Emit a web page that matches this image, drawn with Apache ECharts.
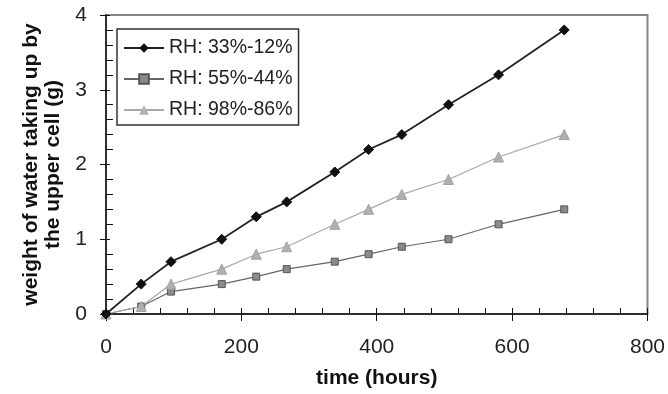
<!DOCTYPE html>
<html><head><meta charset="utf-8">
<script src="https://cdn.jsdelivr.net/npm/echarts@6/dist/echarts.min.js"></script>
<style>html,body{margin:0;padding:0;background:#fff}#c{width:668px;height:394px}</style>
</head><body><div id="c"></div>
<script>
const times = [0, 52, 96, 171, 222, 267, 338, 388, 437, 506, 580, 677];
const rh33 = [0, 0.4, 0.7, 1.0, 1.3, 1.5, 1.9, 2.2, 2.4, 2.8, 3.2, 3.8];
const rh55 = [0, 0.1, 0.3, 0.4, 0.5, 0.6, 0.7, 0.8, 0.9, 1.0, 1.2, 1.4];
const rh98 = [0, 0.1, 0.4, 0.6, 0.8, 0.9, 1.2, 1.4, 1.6, 1.8, 2.1, 2.4];
const seriesNames = ['RH: 33%-12%', 'RH: 55%-44%', 'RH: 98%-86%'];
const xTicks = [0, 200, 400, 600, 800];
const yTicks = [0, 1, 2, 3, 4];

const FONT = 'Liberation Sans, Arial, sans-serif';
const pairs = (ys) => times.map((t, i) => [t, ys[i]]);

const chart = echarts.init(document.getElementById('c'));
chart.setOption({
  animation: false,
  backgroundColor: '#fff',
  grid: { left: 106, right: 20, top: 15, bottom: 78, show: true, borderColor: '#888', borderWidth: 2, backgroundColor: 'transparent' },
  legend: {
    left: 117, top: 29, orient: 'vertical',
    data: seriesNames,
    itemWidth: 40, itemHeight: 12, itemGap: 11,
    padding: [9, 6, 5, 6],
    borderColor: '#333', borderWidth: 1.5,
    textStyle: { fontFamily: FONT, fontSize: 19.5, color: '#222' }
  },
  xAxis: [{
    type: 'value', min: xTicks[0], max: xTicks[xTicks.length - 1], interval: 200,
    name: 'time (hours)', nameLocation: 'middle', nameGap: 54,
    nameTextStyle: { fontFamily: FONT, fontSize: 21, fontWeight: 'bold', color: '#111' },
    axisLine: { show: true, onZero: false, lineStyle: { color: '#111', width: 1.5 } },
    axisTick: { show: true, inside: true, length: 6, lineStyle: { color: '#111' } },
    minorTick: { show: true, splitNumber: 5, length: 6, lineStyle: { color: '#111' } },
    axisLabel: { fontFamily: FONT, fontSize: 21, color: '#222', margin: 23 },
    splitLine: { show: false }
  }, {
    type: 'value', position: 'bottom', min: 0, max: 800, interval: 200,
    axisLine: { show: false }, axisTick: { show: true, inside: false, length: 7, lineStyle: { color: '#111' } },
    axisLabel: { show: false }, splitLine: { show: false }
  }],
  yAxis: [{
    type: 'value', min: yTicks[0], max: yTicks[yTicks.length - 1], interval: 1,
    name: 'weight of water taking up by\nthe upper cell (g)', nameLocation: 'middle', nameRotate: 90, nameGap: 42,
    nameTextStyle: { fontFamily: FONT, fontSize: 21, fontWeight: 'bold', color: '#111', lineHeight: 22 },
    axisLine: { show: true, onZero: false, lineStyle: { color: '#111', width: 1.5 } },
    axisTick: { show: true, inside: true, length: 4, lineStyle: { color: '#111' } },
    minorTick: { show: true, splitNumber: 5, length: 7, lineStyle: { color: '#111' } },
    axisLabel: { fontFamily: FONT, fontSize: 21, color: '#222', margin: 19 },
    splitLine: { show: false }
  }, {
    type: 'value', position: 'left', min: 0, max: 4, interval: 1,
    axisLine: { show: false }, axisTick: { show: true, inside: false, length: 6, lineStyle: { color: '#111' } },
    axisLabel: { show: false }, splitLine: { show: false }
  }],
  series: [{
    name: seriesNames[0], type: 'line', data: pairs(rh33), z: 5,
    symbol: 'diamond', symbolSize: 10,
    lineStyle: { color: '#222', width: 1.8 },
    itemStyle: { color: '#111', borderColor: '#111' }
  }, {
    name: seriesNames[1], type: 'line', data: pairs(rh55), z: 3,
    symbol: 'rect', symbolSize: 7,
    lineStyle: { color: '#666', width: 1.2 },
    itemStyle: { color: '#8a8a8a', borderColor: '#555', borderWidth: 1 }
  }, {
    name: seriesNames[2], type: 'line', data: pairs(rh98), z: 4,
    symbol: 'triangle', symbolSize: 10,
    lineStyle: { color: '#a8a8a8', width: 1.2 },
    itemStyle: { color: '#b0b0b0', borderColor: '#a0a0a0' }
  }]
});
</script></body></html>
